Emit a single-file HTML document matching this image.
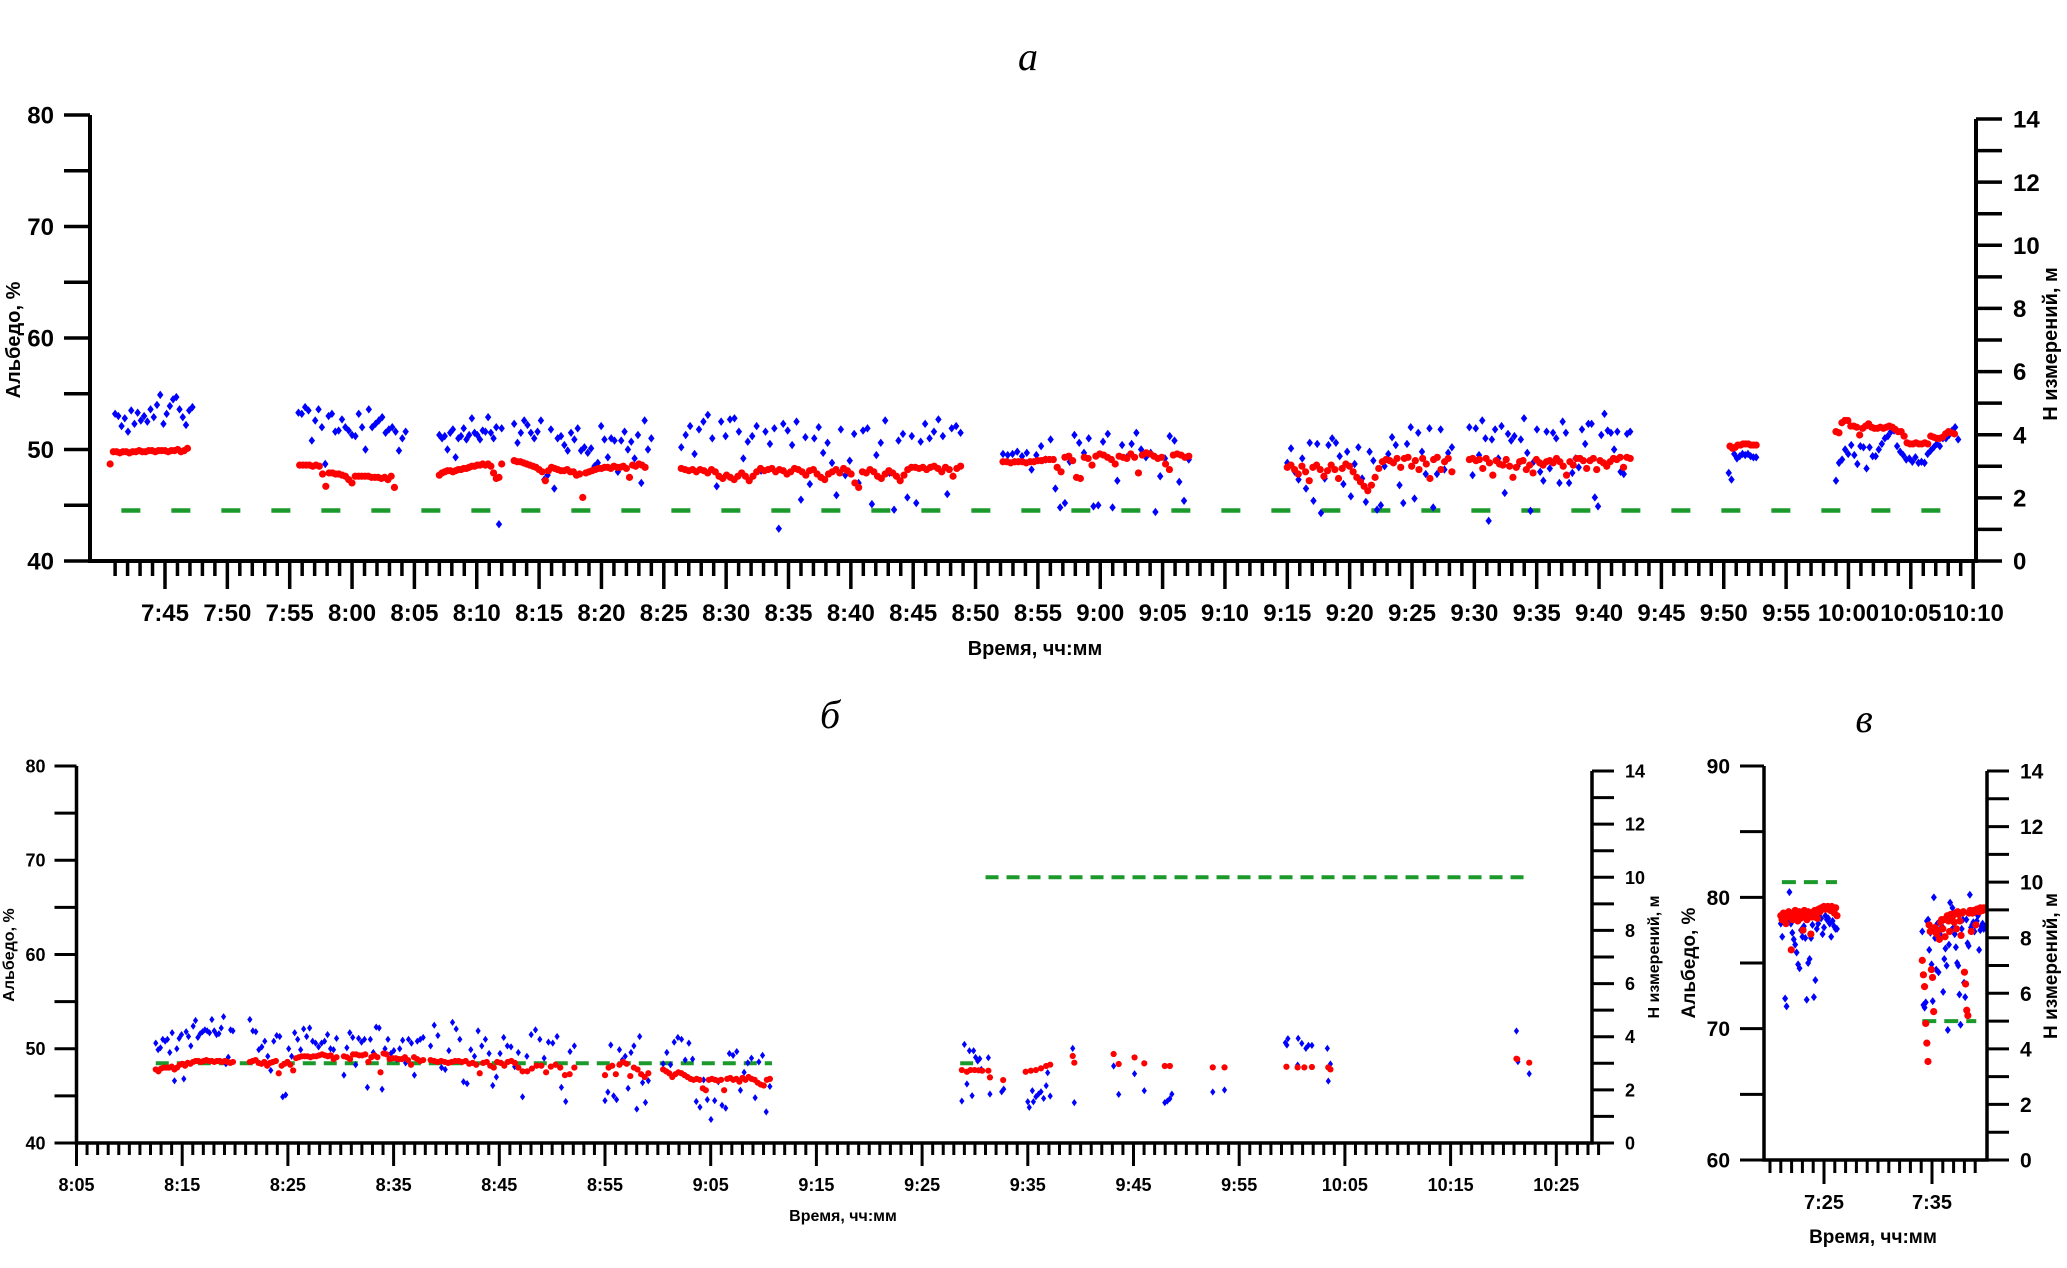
<!DOCTYPE html>
<html><head><meta charset="utf-8">
<style>
html,body{margin:0;padding:0;background:#fff;}
svg{display:block;font-family:"Liberation Sans",Arial,sans-serif;}
</style></head>
<body>
<svg id="fig" width="2067" height="1268" viewBox="0 0 2067 1268" xmlns="http://www.w3.org/2000/svg">
<rect width="2067" height="1268" fill="#fff"/>
<g id="pa"></g>
<g id="pb"></g>
<g id="pc"></g>
</svg>
<script>
// ---- Panel a data (time in minutes after 7:00; albedo %) ----
var aRedSegs = [
 [40.6,46.8,[48.7,49.8,49.8,49.7,49.8,49.8,49.7,49.8,49.8,49.9,49.8,49.8,49.9,49.9,49.8,49.9,49.9,49.9,49.8,49.9,49.9,50,49.8,49.9,50.1]],
 [55.8,63.4,[48.6,48.6,48.6,48.6,48.5,48.6,48.5,47.8,46.7,47.9,47.9,47.8,47.8,47.7,47.6,47.3,47,47.6,47.6,47.6,47.6,47.6,47.5,47.5,47.5,47.4,47.5,47.3,47.6,46.6]],
 [67,72,[47.7,47.9,48,48.1,48.1,48,48.1,48.2,48.2,48.3,48.3,48.4,48.5,48.5,48.6,48.6,48.7,48.6,48.7,48.5,47.9,47.4,47.5,48.7]],
 [73,83.5,[49,48.9,48.9,48.8,48.7,48.6,48.5,48.4,48.2,48,47.2,48.1,48.4,48.3,48.2,48.1,48.1,48.2,48,48,47.7,47.8,45.7,47.9,48,48.1,48.2,48.3,48.3,48.4,48.4,48.3,48.5,48.4,48.4,48.5,48.3,47.5,48.6,48.5,48.7,48.6,48.4]],
 [86.4,108.8,[48.3,48.2,48.1,48.2,48.0,48.2,48.1,47.9,48.2,48.0,47.6,47.4,47.7,47.5,47.3,47.6,47.9,47.6,47.2,47.6,48.0,48.3,48.1,48.2,48.3,48.0,48.2,48.1,47.8,48.0,48.3,48.2,48.0,47.7,48.1,48.2,47.8,47.5,47.3,47.8,48.0,48.2,47.9,48.3,48.1,47.8,47.0,46.6,48.0,47.9,48.2,48.0,47.6,47.4,47.8,48.1,47.9,47.6,47.2,47.7,48.2,48.4,48.4,48.3,48.4,48.2,48.4,48.5,48.3,48.0,48.4,48.2,47.6,48.3,48.5]],
 [112.2,127.1,[48.9,48.9,48.8,48.9,48.9,48.9,48.8,48.9,48.9,49.0,49.0,49.1,49.1,49.1,48.4,48.0,49.3,49.4,49.0,47.5,47.4,49.3,49.2,48.6,49.4,49.6,49.5,49.3,49.1,48.7,49.4,49.3,49.2,49.6,49.3,47.9,49.5,49.7,49.6,49.4,49.2,49.3,48.7,48.2,49.5,49.6,49.5,49.3,49.4]],
 [135,148.2,[48.4,48.6,48.2,47.8,48.5,48.0,47.2,48.4,48.6,48.2,47.6,48.1,48.6,48.2,47.4,48.3,48.7,48.5,48.0,47.5,47.1,46.7,46.3,46.8,47.5,48.3,48.9,49.1,49.0,48.8,49.2,48.4,49.2,49.3,48.5,49.0,48.2,49.2,48.7,47.4,49.1,49.3,48.2,48.9,49.2,48.0]],
 [149.6,162.5,[49.1,49.2,49.0,49.1,48.3,49.2,48.8,47.7,49.0,48.7,48.6,49.1,48.5,47.5,48.4,48.9,49.0,48.2,48.6,47.9,49.1,48.8,48.6,48.9,49.0,48.8,49.2,48.9,48.5,47.7,48.9,48.6,49.2,49.2,49.0,48.3,49.0,49.2,48.2,49.0,48.8,48.5,48.9,49.2,49.1,49.3,48.4,49.3,49.2]],
 [170.5,172.6,[50.3,50.1,50.2,50.4,50.4,50.5,50.5,50.5,50.4,50.4,50.4]],
 [179,188.5,[51.6,51.5,52.4,52.6,52.6,52.1,52.1,52.0,51.3,51.9,52.1,52.3,52.0,51.9,51.9,52.0,51.9,52.0,52.1,52.0,51.8,51.6,51.6,51.2,50.6,50.5,50.5,50.6,50.5,50.5,50.6,50.5,51.2,51.1,51.0,51.0,51.1,51.4,51.6,51.5,51.4]]
];
var aBlueSegs = [
 [41,47.2,[53.2,53,52.1,52.8,51.6,53.5,52.3,53.3,52.6,53,52.5,53.6,52.9,54,54.9,52.3,53.2,53.9,54.5,54.7,53.6,52.9,52.2,53.5,53.8]],
 [55.7,64.3,[53.3,53.2,53.8,53.5,50.8,52.6,53.6,52,48.7,53,53.2,51.6,51.7,52.7,52,51.7,51.3,51.2,53.2,52,50,53.6,52,52.3,52.6,52.9,51.5,51.8,52,51.6,49.9,51,51.6]],
 [67,72,[51.3,51,51.2,50,51.5,51.8,49.3,51,51.2,51.9,50.9,51.3,52.8,51.5,51.3,50.9,51.7,51.6,52.9,51.5,51,52,43.3,51.9]],
 [73,84,[52.3,50.6,51.5,52.6,52.2,51.5,51,51.6,52.6,47.3,47.7,51.8,46.5,51,51.2,50.4,49.9,51.5,50.9,51.9,49.9,50.2,49.7,50.1,48.5,48.8,52.1,50.9,49.3,51,50.8,48,50.8,51.6,50,50.7,49.2,51.3,47,52.6,50,51]],
 [86.4,108.8,[50.2,51.3,52.1,49.6,51.8,52.5,53.1,51.0,46.7,52.5,51.2,52.7,52.8,51.6,49.2,50.7,51.2,52.1,48.1,51.6,50.5,51.9,42.9,52.3,51.7,50.4,52.5,45.5,51.1,46.9,51.0,52.0,49.7,50.6,48.8,45.9,51.8,47.7,49.0,51.4,47.0,51.7,51.9,45.1,49.5,50.6,52.6,47.9,44.6,50.8,51.4,45.7,51.2,45.2,50.7,52.3,51.0,51.6,52.7,51.2,46.0,51.9,52.1,51.5]],
 [112.2,127.1,[49.6,49.5,49.6,49.8,49.4,49.7,48.2,49.5,50.3,49.1,50.9,46.5,44.8,45.2,48.9,51.3,50.6,49.7,51.0,44.9,45.0,50.7,51.4,44.8,47.2,50.4,49.3,50.5,51.5,50.0,49.3,49.7,44.4,47.6,49.2,51.2,50.8,47.1,45.4,49.1]],
 [135,148.2,[48.8,50.1,48.0,47.3,49.2,46.5,50.6,45.4,50.5,44.3,47.4,50.4,51.0,50.6,49.4,46.9,49.8,45.8,48.7,50.2,47.4,45.3,49.8,49.0,44.6,45.0,48.5,49.6,51.1,50.4,46.8,45.2,50.5,52.0,45.6,51.5,49.8,47.8,51.9,44.8,47.8,51.8,48.2,49.7,50.2]],
 [149.6,162.5,[52.0,47.7,51.9,49.5,52.6,51.0,43.6,50.9,51.8,49.2,52.1,46.1,51.4,50.8,51.2,48.5,50.9,52.8,49.7,44.5,48.9,51.8,48.0,47.2,51.6,48.3,51.5,51.0,47.0,52.5,51.5,47.0,47.9,49.2,48.4,51.8,50.5,52.3,52.3,45.7,44.9,51.3,53.2,51.7,51.5,50.0,51.6,48.0,47.8,51.4,51.6]],
 [170.4,172.6,[47.9,47.3,49.6,49.2,49.4,49.6,49.5,49.6,49.4,49.3,49.3]],
 [179,188.8,[47.2,48.8,49.1,50.0,49.6,50.4,49.5,48.7,50.3,50.2,48.3,50.2,49.4,49.4,50.0,50.5,51.0,51.2,51.6,51.7,50.3,49.8,49.5,49.1,49.2,48.9,49.3,48.8,48.9,48.8,49.6,49.9,50.2,50.5,50.3,51.0,51.0,51.3,51.7,52.0,50.9]]
];
var aHeight = [[41.5,189.5,1.6]];
var aTickLabels = ["7:45","7:50","7:55","8:00","8:05","8:10","8:15","8:20","8:25","8:30","8:35","8:40","8:45","8:50","8:55","9:00","9:05","9:10","9:15","9:20","9:25","9:30","9:35","9:40","9:45","9:50","9:55","10:00","10:05","10:10"];

// ---- Panel b data ----
var bRedSegs = [
 [72.5,79.8,[47.8,47.6,47.9,48.0,48.0,48.0,48.1,47.8,48.0,48.3,48.4,48.2,48.5,48.4,48.6,48.7,48.7,48.6,48.7,48.8,48.7,48.7,48.6,48.7,48.7,48.6,48.7,48.6,48.5,48.6]],
 [81.4,89.6,[48.6,48.7,48.8,48.5,48.4,48.6,48.2,48.5,48.6,48.7,47.4,48.2,48.4,48.6,48.3,47.7,49.0,49.1,49.2,49.2,49.2,49.1,49.2,49.2,49.3,49.4,49.3,49.2,49.3,48.9,49.1]],
 [90.3,97.8,[49.2,49.1,48.9,49.4,49.4,49.3,49.3,49.4,48.6,49.1,49.3,49.1,47.5,49.5,49.4,48.9,49.0,49.0,48.9,48.9,49.1,48.8,48.3,49.1,48.9,48.7,48.8]],
 [98.5,106.8,[48.8,48.7,48.6,48.7,48.6,48.5,48.6,48.7,48.7,48.6,48.7,48.4,48.5,48.3,47.4,48.5,48.6,48.2,48.0,48.6,48.5,48.2,48.6,48.7,48.5,48.0]],
 [107.2,112.1,[47.6,47.6,47.9,48.2,48.2,47.5,48.1,48.3,48.0,47.2,47.3,48.0]],
 [115,119.1,[47.2,48.0,48.2,47.3,48.3,48.6,48.4,47.1,48.0,47.8,47.3,47.0,47.4]],
 [120.5,130.6,[47.8,47.6,47.4,47.0,47.3,47.5,47.4,47.2,47.0,46.8,46.7,46.8,46.7,45.8,45.6,46.7,46.8,46.7,46.6,46.7,45.6,46.8,46.9,46.7,46.8,46.5,46.9,46.7,47.0,46.8,46.7,46.4,46.2,46.1,46.7,46.8]]
];
var bBlueSegs = [
 [72.5,79.8,[50.6,49.9,50.1,51.0,50.8,51.0,49.6,51.7,46.6,50.0,51.1,51.5,46.8,51.8,51.3,50.3,52.4,53.0,51.2,51.6,51.8,52.0,51.9,51.7,53.1,51.9,51.5,51.6,52.2,53.4,48.4,49.1,52.0,51.9]],
 [81.4,89.6,[53.1,51.9,51.8,49.9,50.2,50.8,49.2,47.7,50.8,51.4,51.3,44.9,45.1,50.0,49.2,51.7,51.0,49.9,52.1,51.3,52.2,50.8,50.6,50.2,50.6,50.8,51.5,50.0,49.9,51.1]],
 [90.3,97.8,[47.2,50.1,51.7,51.2,48.3,51.1,50.7,51.0,45.9,51.0,49.6,52.3,52.2,45.7,50.0,51.0,49.5,49.8,48.9,50.0,50.9,48.5,51.0,50.6,47.2,50.8,51.0,51.2]],
 [98.5,106.8,[50.3,52.5,51.4,48.0,47.8,49.8,52.8,52.1,51.0,46.5,46.3,49.9,49.2,51.9,50.3,51.0,49.5,46.1,47.0,49.5,51.2,50.3,50.2,48.1,49.6]],
 [107.2,112.1,[44.9,49.2,51.5,52.0,51.0,49.0,50.7,50.6,51.3,45.9,44.4,49.7,50.3]],
 [115,119.1,[44.5,45.4,50.4,45.0,44.6,49.9,48.8,49.2,45.8,49.6,50.3,43.6,51.3,46.4,44.3,46.6]],
 [120.5,130.6,[48.4,49.6,48.3,50.7,51.2,51.0,48.8,50.6,48.9,44.4,43.8,46.7,44.6,42.5,44.5,46.5,44.0,43.7,49.5,49.3,49.7,45.6,47.5,48.5,49.0,44.8,48.6,49.3,43.3,46.0]]
];
var bRedT = [148.76,149.24,149.58,149.97,150.35,150.69,151.27,151.42,152.67,154.8,155.29,155.77,156.25,156.74,157.12,159.25,159.4,163.12,163.6,165.1,166.02,167.96,168.44,172.5,173.61,179.47,180.53,181.16,181.88,183.43,183.63,201.23,201.3,202.44];
var bRedV = [47.74,47.56,47.74,47.74,47.71,47.67,47.67,46.96,46.68,47.56,47.67,47.74,47.92,48.17,48.31,49.23,48.52,49.44,48.38,49.08,48.45,48.17,48.17,48.02,48.02,48.09,48.02,48.02,48.06,48.02,47.81,48.94,48.9,48.52];
var bBlueT = [148.76,149,149.24,149.48,149.73,149.87,150.06,150.26,150.45,150.6,151.27,151.42,152.53,152.72,155,155.14,155.53,155.43,155.77,156.01,156.25,156.5,156.74,156.88,157.12,159.25,159.4,163.12,163.6,165.1,166.02,167.96,168.2,168.44,168.63,172.5,173.61,179.37,179.61,179.51,180.58,180.92,181.31,181.55,181.88,180.53,183.34,183.63,183.43,201.23,201.37,202.44];
var bBlueV = [44.45,50.46,46.26,49.79,45.02,49.79,49.09,48.7,48.94,47.81,49.05,45.19,45.44,45.72,44.38,43.78,44.38,45.55,44.91,45.19,45.44,44.73,46.08,47.46,44.98,50.04,44.28,48.17,45.16,47.35,45.55,44.28,44.45,44.7,45.19,45.41,45.62,50.64,51.07,50.39,51.1,50.57,50.04,50.36,50.36,48.27,50.04,48.38,46.57,51.88,48.63,47.35];
var bHeight = [[72.5,130.8,3.0],[148.6,150.4,3.0],[151,202.3,10.0]];
var bTickLabels = ["8:05","8:15","8:25","8:35","8:45","8:55","9:05","9:15","9:25","9:35","9:45","9:55","10:05","10:15","10:25"];

// ---- Panel c data ----
var cRedSegs = [
 [21,26.2,[78.6,78.3,78.8,78.4,78.0,78.6,78.9,78.5,76.0,78.3,78.7,79.0,78.6,78.2,78.9,78.4,78.8,77.5,79.0,78.6,78.3,78.9,78.7,77.2,78.5,78.9,79.0,78.7,78.4,79.1,78.9,79.2,79.2,79.3,79.1,79.2,79.3,79.1,79.0,79.3,79.2,78.8,79.2,78.6]],
 [34.1,39.8,[75.2,74.1,73.2,70.4,68.9,67.5,77.9,77.4,74.5,73.9,71.3,77.7,77.3,77.2,77.5,76.8,78.1,78.3,77.6,78.3,77.0,78.4,78.6,78.2,77.4,78.7,78.5,78.6,78.1,78.8,77.6,78.9,78.7,78.2,77.1,78.8,78.9,74.3,73.4,71.4,71.0,78.8,79.0,77.4,78.8,79.0,78.9,77.9,79.1,79.0,78.9,79.2,79.1,79.0,79.2]]
];
var cBlueSegs = [
 [21,26.2,[78.0,77.0,78.2,72.3,71.7,78.2,80.4,78.0,77.3,76.8,76.4,75.8,74.9,74.6,77.5,77.0,77.8,76.9,72.2,75.0,75.3,76.9,77.9,72.4,73.7,77.6,78.0,78.5,78.4,77.2,77.7,78.6,78.3,78.4,78.0,77.0,78.2,77.8,77.6,77.6]],
 [34.1,39.9,[77.4,71.8,71.6,72.0,78.2,78.3,76.0,77.3,74.9,72.1,80.0,76.9,74.5,78.0,74.3,76.9,77.1,77.8,72.8,75.3,76.1,74.8,69.9,76.4,79.6,77.5,79.2,77.7,77.2,76.2,75.0,74.8,72.6,70.3,77.6,78.3,73.5,72.4,78.3,76.5,76.3,80.2,77.7,77.9,78.1,77.4,77.9,78.2,78.6,76.0,77.5,77.8,78.0,77.6,77.7]]
];
var cHeight = [[21.1,26.2,10.0],[34.1,39.1,5.0]];
var cTickLabels = ["7:25","7:35"];

var NS = "http://www.w3.org/2000/svg";
function mk(parent, tag, attrs) {
  var e = document.createElementNS(NS, tag);
  for (var k in attrs) e.setAttribute(k, attrs[k]);
  parent.appendChild(e);
  return e;
}
function line(g, x1, y1, x2, y2, w) {
  var l = mk(g, "line", {x1:x1, y1:y1, x2:x2, y2:y2, stroke:"#000", "stroke-width":w});
  
  
  return l;
}
function text(g, x, y, s, size, anchor, extra) {
  var t = mk(g, "text", {x:x, y:y, "font-size":size, "font-weight":"bold", "text-anchor":anchor, fill:"#000"});
  if (extra) for (var k in extra) t.setAttribute(k, extra[k]);
  t.textContent = s;
  
  
  return t;
}

function panel(P) {
  var g = document.getElementById(P.id);
  var X = function (t) { return P.xo + (t - P.t0) * P.px; };
  var YL = function (v) { return P.yBot - (v - P.lMin) * (P.yBot - P.yTop) / (P.lMax - P.lMin); };
  var YR = function (v) { return P.yBot - v * (P.yBot - P.rTop) / 14; };
  P.height.forEach(function (h) {
    var l = mk(g, "line", {x1:X(h[0]), x2:X(h[1]), y1:YR(h[2]), y2:YR(h[2]), stroke:"#1b9a2b", "stroke-width":P.gw, "stroke-dasharray":P.dash});
    
    
  });
  function blue(t, v) {
    var x = X(t), y = YL(v), a = P.bw, b = P.bh;
    var p = mk(g, "polygon", {points:(x)+","+(y-b)+" "+(x+a)+","+y+" "+x+","+(y+b)+" "+(x-a)+","+y, fill:"#0000ff"});
    
    
  }
  function red(t, v) {
    var c = mk(g, "circle", {cx:X(t), cy:YL(v), r:P.rr, fill:"#ff0000"});
    
    
  }
  P.blueSegs.forEach(function (s) { var n = s[2].length; s[2].forEach(function (v, i) { blue(s[0] + (s[1] - s[0]) * i / Math.max(1, n - 1), v); }); });
  if (P.blueT) P.blueT.forEach(function (t, i) { blue(t, P.blueV[i]); });
  P.redSegs.forEach(function (s) { var n = s[2].length; s[2].forEach(function (v, i) { red(s[0] + (s[1] - s[0]) * i / Math.max(1, n - 1), v); }); });
  if (P.redT) P.redT.forEach(function (t, i) { red(t, P.redV[i]); });
  var ax = mk(g, "path", {d:"M" + P.x0 + "," + P.yTop + " V" + P.yBot + " H" + P.xR + " V" + P.rTop, fill:"none", stroke:"#000", "stroke-width":P.aw});
  
  
  for (var v = P.lMin; v <= P.lMax; v += P.lStep) {
    line(g, P.x0 - P.ltl, YL(v), P.x0, YL(v), P.tw);
    if ((v - P.lMin) % P.lLab === 0) text(g, P.x0 - P.ltl - P.lgap, YL(v) + P.fs * 0.36, String(v), P.fs, "end");
  }
  for (var r = 0; r <= 14; r++) {
    line(g, P.xR, YR(r), P.xR + P.rtl, YR(r), P.tw);
    if (r % 2 === 0) text(g, P.xR + P.rtl + P.rgap, YR(r) + P.fs * 0.36, String(r), P.fs, "start");
  }
  for (var t = P.tMin; t <= P.tMax + 0.01; t++) {
    var major = (((t - P.tMaj0) % P.majStep) + P.majStep) % P.majStep === 0;
    line(g, X(t), P.yBot, X(t), P.yBot + (major ? P.majL : P.minL), P.tw);
  }
  P.labels.forEach(function (s, i) {
    text(g, X(P.lab0 + i * P.labStep), P.labY, s, P.xfs, "middle");
  });
  var tl = text(g, P.ylx, P.yly, "Альбедо, %", P.tfs, "middle", {transform:"rotate(-90 " + P.ylx + " " + P.yly + ")"});
  
  var tr = text(g, P.yrx, P.yry, "Н измерений, м", P.tfs, "middle", {transform:"rotate(-90 " + P.yrx + " " + P.yry + ")"});
  
  var tx = text(g, P.xtx, P.xty, "Время, чч:мм", P.tfs, "middle");
  
  var pt = mk(g, "text", {x:P.ptx, y:P.pty, "font-size":40, "font-style":"italic", "font-family":"Liberation Serif, serif", "text-anchor":"middle"});
  pt.textContent = P.ptitle;
  
  
}

panel({id:"pa", x0:90, xo:165, t0:45, px:12.47, yTop:115, yBot:561, rTop:119, xR:1976, lMin:40, lMax:80, lStep:5, lLab:10,
  redSegs:aRedSegs, blueSegs:aBlueSegs, height:aHeight, gw:4.5, dash:"19 31", rr:3.6, bw:3.2, bh:4.2, aw:4, tw:3.5,
  ltl:26, lgap:10, rtl:26, rgap:11, fs:24, xfs:24, tMin:41, tMax:190, tMaj0:45, majStep:5, majL:28, minL:15,
  labels:aTickLabels, lab0:45, labStep:5, labY:621, tfs:20,
  ylx:20, yly:340, yrx:2057, yry:344, xtx:1035, xty:655, ptx:1028, pty:70, ptitle:"а"});
panel({id:"pb", x0:76.5, xo:76.5, t0:65, px:10.57, yTop:766, yBot:1143, rTop:771, xR:1592, lMin:40, lMax:80, lStep:5, lLab:10,
  redSegs:bRedSegs, blueSegs:bBlueSegs, redT:bRedT, redV:bRedV, blueT:bBlueT, blueV:bBlueV, height:bHeight, gw:4, dash:"13 8", rr:3.1, bw:2.6, bh:3.6, aw:3.5, tw:3,
  ltl:22, lgap:9, rtl:22, rgap:11, fs:18, xfs:18, tMin:65, tMax:209, tMaj0:65, majStep:10, majL:23, minL:12,
  labels:bTickLabels, lab0:65, labStep:10, labY:1191, tfs:16,
  ylx:14, yly:955, yrx:1659, yry:957, xtx:843, xty:1221, ptx:830, pty:728, ptitle:"б"});
panel({id:"pc", x0:1764, xo:1824, t0:25, px:10.8, yTop:766, yBot:1160, rTop:771, xR:1987, lMin:60, lMax:90, lStep:5, lLab:10,
  redSegs:cRedSegs, blueSegs:cBlueSegs, height:cHeight, gw:4, dash:"14 8", rr:3.6, bw:3, bh:4, aw:3.5, tw:3,
  ltl:24, lgap:10, rtl:22, rgap:11, fs:21, xfs:20, tMin:20, tMax:39, tMaj0:25, majStep:10, majL:24, minL:13,
  labels:cTickLabels, lab0:25, labStep:10, labY:1209, tfs:19,
  ylx:1695, yly:963, yrx:2057, yry:966, xtx:1873, xty:1243, ptx:1864, pty:732, ptitle:"в"});
</script>
</body></html>
